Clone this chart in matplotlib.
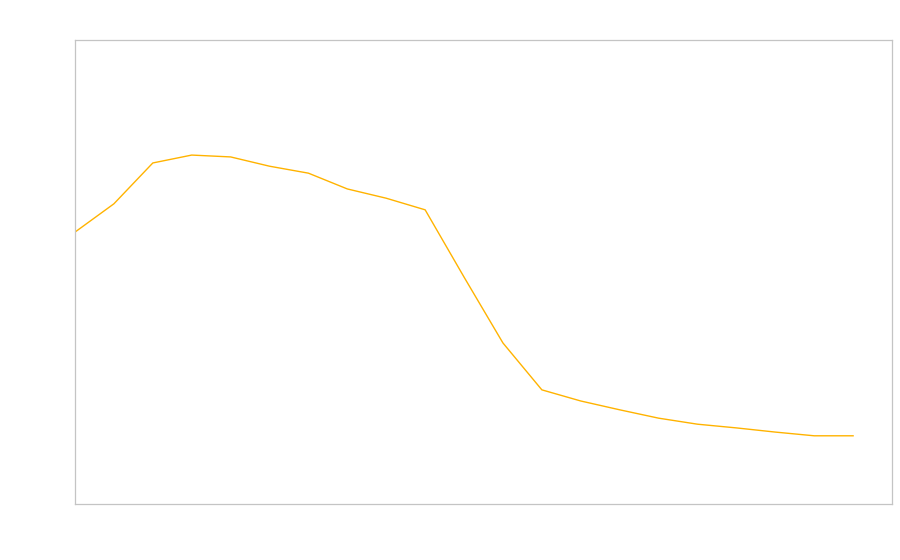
import matplotlib
matplotlib.use("Agg")
import matplotlib.pyplot as plt

x = list(range(21))
values = [58.6, 64.7, 73.5, 75.2, 74.8, 72.8, 71.3, 67.9, 65.9, 63.4, 48.9,
          34.7, 24.6, 22.2, 20.3, 18.5, 17.2, 16.4, 15.5, 14.7, 14.7]

fig = plt.figure(figsize=(9, 5.6), dpi=100)
ax = fig.add_axes([75 / 900, 56 / 560, 817 / 900, 464 / 560])
ax.plot(x, values, color='#FFB300', linewidth=1.0)
ax.set_xlim(0, 21)
ax.set_ylim(0, 100)
ax.set_xticks([])
ax.set_yticks([])
for s in ax.spines.values():
    s.set_color('#c4c4c4')
    s.set_linewidth(0.9)

plt.savefig("out.png", dpi=100)
